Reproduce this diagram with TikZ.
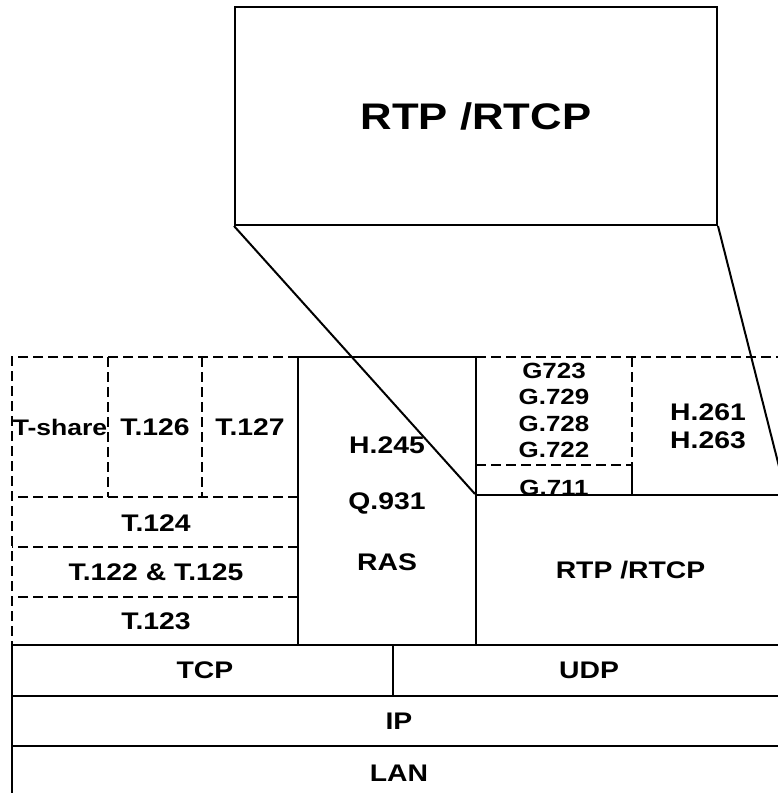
\documentclass[tikz,border=0pt]{standalone}
\usepackage{fontspec}
\setmainfont{Liberation Sans}[FakeStretch=1.18]

\begin{document}
\begin{tikzpicture}[x=1pt,y=-1pt,
  sline/.style={line width=2pt},
  dline/.style={line width=2.4pt, dash pattern=on 10pt off 5pt},
  lbl/.style={font=\fontsize{24}{28}\selectfont\bfseries, inner sep=0pt, align=center},
  glbl/.style={font=\fontsize{22}{26.5}\selectfont\bfseries, inner sep=0pt, align=center},
  boxnode/.style={draw, line width=2pt, inner sep=0pt}]
\useasboundingbox (0,0) rectangle (778,793);
% zoomed block
\node[boxnode, minimum width=482pt, minimum height=218pt,
  font=\fontsize{37}{44}\selectfont\bfseries] (top) at (476,116) {RTP /RTCP};
% lower layers
\draw[sline] (12,645) rectangle (393,696);
\draw[sline] (393,645) rectangle (785,696);
\draw[sline] (12,696) rectangle (785,746);
\draw[sline] (12,746) rectangle (785,800);
% control column
\draw[sline] (298,357) rectangle (476,645);
% T series, dashed
\draw[dline] (298,357) -- (12,357) -- (12,645);
\draw[dline] (108,357) -- (108,497);
\draw[dline] (202,357) -- (202,497);
\foreach \y in {497,547,597}
  \draw[dline] (298,\y) -- (12,\y);
% codecs, dashed
\draw[dline] (476,357) -- (785,357);
\draw[dline] (632,357) -- (632,465);
\draw[dline] (476,465) -- (632,465);
\draw[sline] (632,465) -- (632,495);
\node[glbl] (g711) at (554,488) {G.711};
\node[boxnode, minimum width=309pt, minimum height=150pt, lbl, draw] (rtp) at (630.5,570) {RTP /RTCP};
% labels
\node[lbl, font=\fontsize{22.5}{26}\selectfont\bfseries] (tshare) at (60,427) {T-share};
\node[lbl] (t126) at (155,427) {T.126};
\node[lbl] (t127) at (250,427) {T.127};
\node[lbl] (t124) at (156,523) {T.124};
\node[lbl] (t122) at (156,572) {T.122 \& T.125};
\node[lbl] (t123) at (156,621) {T.123};
\node[lbl] (h245) at (387,445) {H.245};
\node[lbl] (q931) at (387,503) {Q.931};
\node[lbl] (ras) at (387,562) {RAS};
\node[glbl] (gcodec) at (554,410.5) {G723\\G.729\\G.728\\G.722};
\node[lbl] (hcodec) at (708,426) {H.261\\H.263};
\node[lbl] (tcp) at (205,670) {TCP};
\node[lbl] (udp) at (589,670) {UDP};
\node[lbl] (ip) at (399,721) {IP};
\node[lbl] (lan) at (399,773) {LAN};
% zoom lines
\draw[sline] (top.south west) -- (rtp.north west);
\draw[sline] (top.south east) -- (rtp.north east);
\end{tikzpicture}
\end{document}
